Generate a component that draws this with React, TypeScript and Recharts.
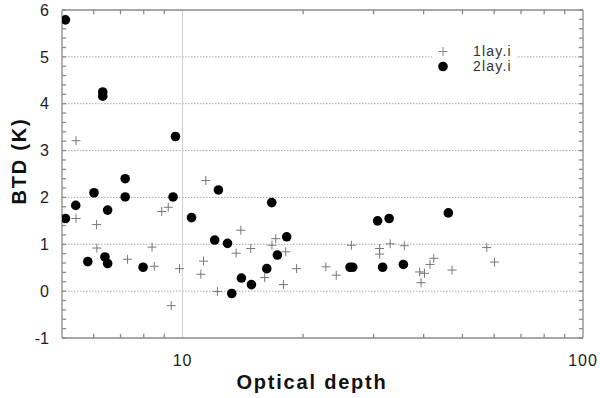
import { ReferenceLine, Scatter, ScatterChart, XAxis, YAxis } from 'recharts';

// single-layer retrieval (gray crosses)
const oneLayDepth = [5.42, 5.42, 6.1, 6.11, 7.29, 8.39, 8.5, 8.87, 9.21, 9.37, 9.83, 11.11, 11.28, 11.43, 12.22, 13.61, 13.98, 14.8, 16.04, 16.72, 17.09, 17.86, 18.1, 19.27, 22.8, 24.2, 26.4, 31.05, 31.05, 33.0, 35.8, 39.1, 39.4, 40.2, 41.5, 42.4, 47.1, 57.5, 60.1];
const oneLayBtd = [3.21, 1.55, 1.42, 0.92, 0.68, 0.94, 0.53, 1.7, 1.79, -0.31, 0.48, 0.36, 0.64, 2.36, -0.01, 0.81, 1.3, 0.91, 0.29, 0.98, 1.12, 0.14, 0.84, 0.48, 0.52, 0.34, 0.98, 0.91, 0.79, 1.01, 0.97, 0.41, 0.18, 0.38, 0.57, 0.7, 0.45, 0.93, 0.62];

// two-layer retrieval (black dots)
const twoLayDepth = [5.1, 6.32, 6.32, 9.6, 7.19, 6.01, 7.19, 9.47, 5.41, 6.5, 5.1, 10.53, 5.8, 6.4, 6.5, 7.97, 12.29, 16.7, 12.03, 12.95, 18.2, 17.25, 16.23, 14.03, 14.86, 13.27, 30.7, 32.8, 46.1, 26.2, 26.6, 31.6, 35.6];
const twoLayBtd = [5.79, 4.25, 4.16, 3.3, 2.4, 2.1, 2.01, 2.01, 1.83, 1.73, 1.55, 1.57, 0.63, 0.73, 0.59, 0.51, 2.16, 1.89, 1.09, 1.02, 1.16, 0.77, 0.48, 0.28, 0.14, -0.05, 1.5, 1.55, 1.67, 0.51, 0.51, 0.51, 0.57];

const seriesNames = ['1lay.i', '2lay.i'];
const xTicks = [5, 6, 7, 8, 9, 10, 20, 30, 40, 50, 60, 70, 80, 90, 100];
const xLabels = [10, 100];
const xMinor = [6, 7, 8, 9, 20, 30, 40, 50, 60, 70, 80, 90];
const yTicks = [-1, 0, 1, 2, 3, 4, 5, 6];
const yMinor = [-0.8, -0.6, -0.4, -0.2, 0.2, 0.4, 0.6, 0.8, 1.2, 1.4, 1.6, 1.8, 2.2, 2.4, 2.6, 2.8, 3.2, 3.4, 3.6, 3.8, 4.2, 4.4, 4.6, 4.8, 5.2, 5.4, 5.6, 5.8];
const yGrid = [0, 1, 2, 3, 4, 5];

const X_MIN = 5;
const X_MAX = 100;
const Y_MIN = -1;
const Y_MAX = 6;

const oneLay = oneLayDepth.map((x, i) => ({ x, y: oneLayBtd[i] }));
const twoLay = twoLayDepth.map((x, i) => ({ x, y: twoLayBtd[i] }));

const FONT = "'Liberation Sans', Arial, Helvetica, sans-serif";
const FRAME = '#8a8a8a';
// tick lengths in data units (about 4px)
const TICK_DY = 0.09;
const TICK_FX = 1.024;

function XTick(props: any) {
  const { x, y, payload } = props;
  const v = payload.value;
  if (!xLabels.includes(v)) return <g />;
  return (
    <text x={x} y={y + 28} textAnchor="middle" fontSize={16} letterSpacing={1} fill="#222" fontFamily={FONT}>
      {v}
    </text>
  );
}

function YTick(props: any) {
  const { x, y, payload } = props;
  return (
    <text x={x - 13} y={y} dy="0.36em" textAnchor="end" fontSize={16} fill="#222" fontFamily={FONT}>
      {payload.value}
    </text>
  );
}

function Plus(p: any) {
  return <path d={`M${p.cx - 4.5},${p.cy}h9M${p.cx},${p.cy - 4.5}v9`} stroke="#777" strokeWidth={1} fill="none" />;
}

function Dot(p: any) {
  return <circle cx={p.cx} cy={p.cy} r={4.8} fill="#000" />;
}

function LegendBox() {
  return (
    <div
      style={{
        position: 'absolute', left: 432, top: 42, width: 86, height: 34, background: '#fff',
        fontFamily: FONT, fontSize: 14, color: '#333', paddingTop: 2, boxSizing: 'border-box',
      }}
    >
      {seriesNames.map((name, i) => (
        <div key={name} style={{ height: 15, lineHeight: '15px', display: 'flex', alignItems: 'center' }}>
          <svg width={41} height={15}>
            {i === 0 ? (
              <path d="M6.5,7.5h9M11,3v9" stroke="#888" strokeWidth={1} />
            ) : (
              <circle cx={11} cy={7.5} r={4.8} fill="#000" />
            )}
          </svg>
          <span style={{ letterSpacing: 1.2 }}>{name}</span>
        </div>
      ))}
    </div>
  );
}

function AxisTitles() {
  return (
    <svg width={600} height={398} style={{ position: 'absolute', left: 0, top: 0, pointerEvents: 'none' }}>
      <text x={312} y={389} textAnchor="middle" fontSize={20} fontWeight="bold" letterSpacing={1.8} fill="#111" fontFamily={FONT}>
        Optical depth
      </text>
      <text
        x={19}
        y={161}
        transform="rotate(-90, 19, 161)"
        textAnchor="middle"
        dominantBaseline="central"
        fontSize={20}
        fontWeight="bold"
        letterSpacing={1.8}
        fill="#111"
        fontFamily={FONT}
      >
        BTD (K)
      </text>
    </svg>
  );
}

export default function App() {
  const tick = { stroke: FRAME, strokeWidth: 1.3, ifOverflow: 'visible' as const };
  return (
    <div style={{ position: 'absolute', left: 0, top: 0, width: 600, height: 398, background: '#fff' }}>
      <ScatterChart width={600} height={398} margin={{ top: 10, right: 17, bottom: 0, left: 0 }}>
        <XAxis
          type="number"
          dataKey="x"
          scale="log"
          domain={[X_MIN, X_MAX]}
          allowDataOverflow
          ticks={xTicks}
          interval={0}
          tick={<XTick />}
          tickLine={false}
          tickSize={0}
          tickMargin={0}
          axisLine={false}
          height={60}
        />
        <YAxis
          type="number"
          dataKey="y"
          domain={[Y_MIN, Y_MAX]}
          allowDataOverflow
          ticks={yTicks}
          interval={0}
          tick={<YTick />}
          tickLine={false}
          tickSize={0}
          tickMargin={0}
          axisLine={false}
          width={62}
        />
        <ReferenceLine x={10} stroke="#cfcfcf" strokeWidth={1} />
        {yGrid.map((v) => (
          <ReferenceLine key={`g${v}`} y={v} stroke="#a8a8a8" strokeDasharray="1.5 1.5" />
        ))}
        {/* frame */}
        <ReferenceLine y={Y_MIN} {...tick} />
        <ReferenceLine y={Y_MAX} {...tick} />
        <ReferenceLine x={X_MIN} {...tick} />
        <ReferenceLine x={X_MAX} {...tick} />
        {/* inward ticks on all four sides */}
        {xMinor.map((v) => (
          <ReferenceLine key={`xb${v}`} segment={[{ x: v, y: Y_MIN }, { x: v, y: Y_MIN + TICK_DY }]} {...tick} />
        ))}
        {xMinor.map((v) => (
          <ReferenceLine key={`xt${v}`} segment={[{ x: v, y: Y_MAX }, { x: v, y: Y_MAX - TICK_DY }]} {...tick} />
        ))}
        {yMinor.concat(yTicks).map((v) => (
          <ReferenceLine key={`yl${v}`} segment={[{ x: X_MIN, y: v }, { x: X_MIN * TICK_FX, y: v }]} {...tick} />
        ))}
        {yMinor.concat(yTicks).map((v) => (
          <ReferenceLine key={`yr${v}`} segment={[{ x: X_MAX, y: v }, { x: X_MAX / TICK_FX, y: v }]} {...tick} />
        ))}
        <Scatter name={seriesNames[0]} data={oneLay} shape={<Plus />} fill="#777" isAnimationActive={false} />
        <Scatter name={seriesNames[1]} data={twoLay} shape={<Dot />} fill="#000" isAnimationActive={false} />
      </ScatterChart>
      <AxisTitles />
      <LegendBox />
    </div>
  );
}
